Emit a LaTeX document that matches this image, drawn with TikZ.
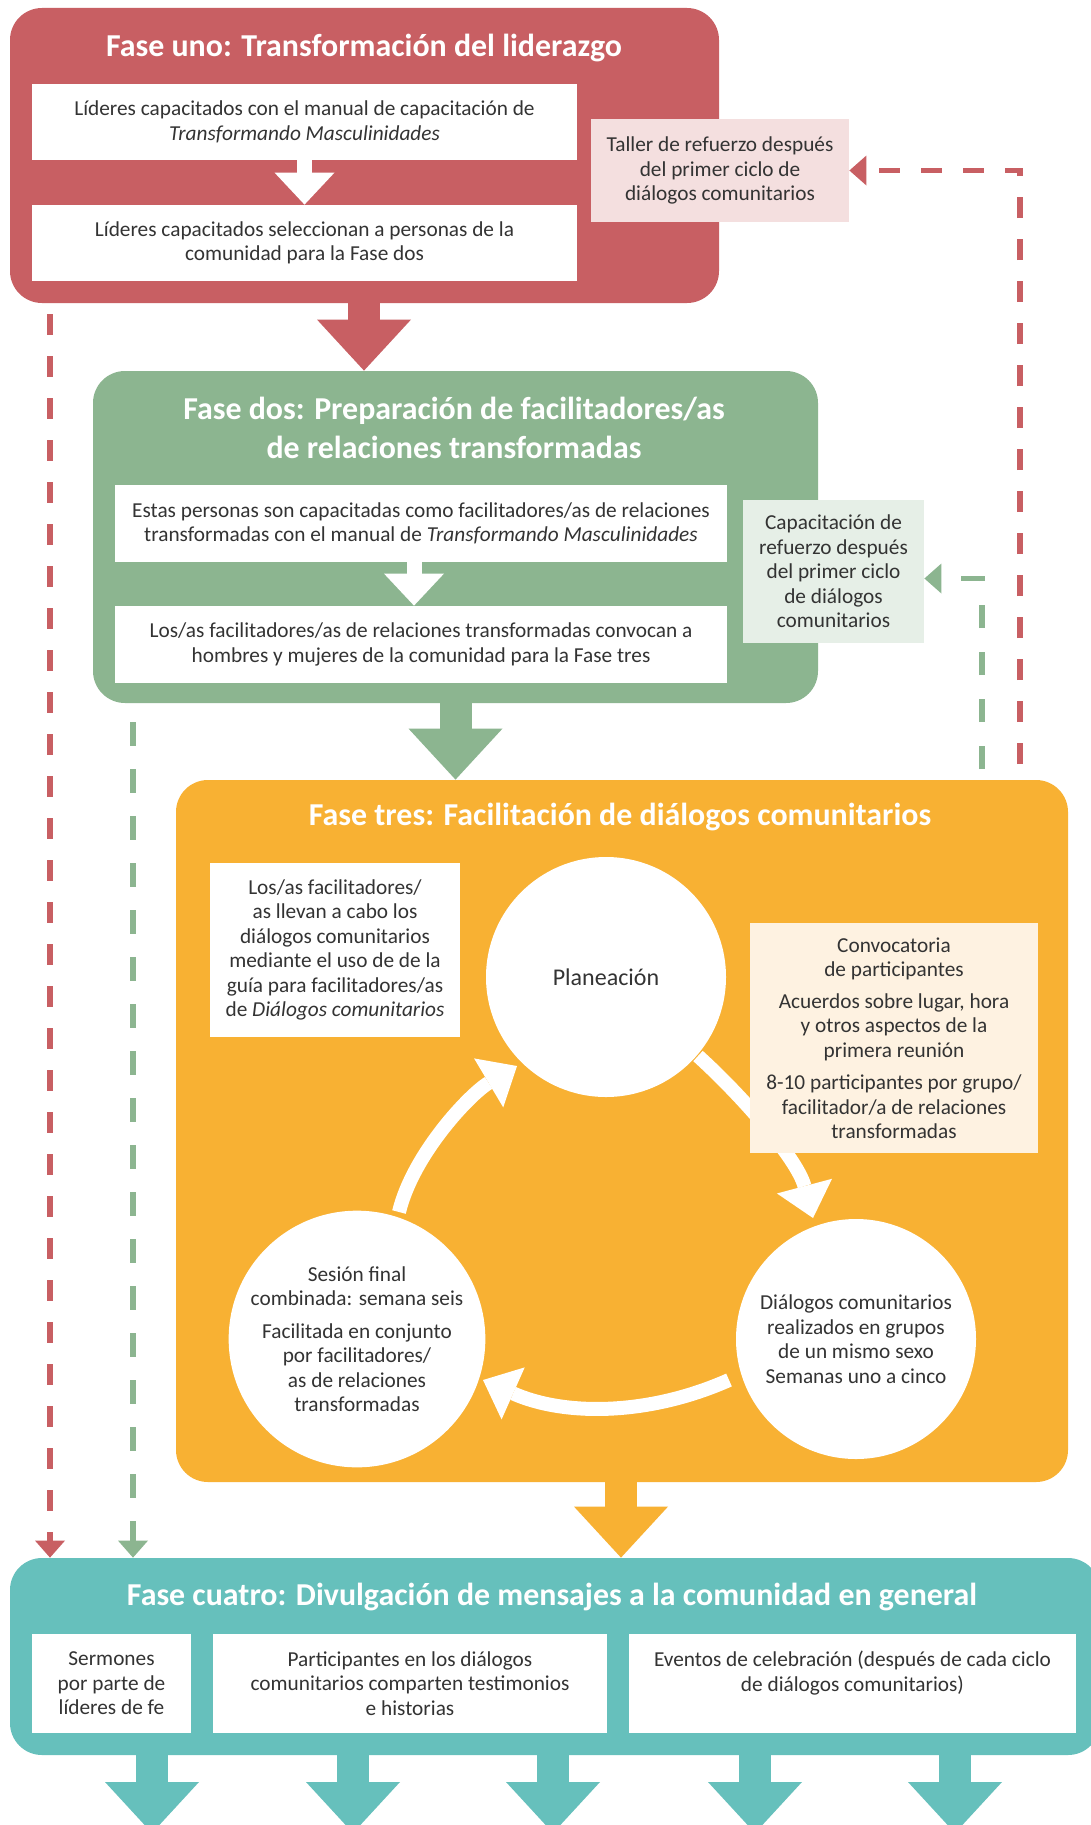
\documentclass[tikz,border=0pt]{standalone}
\usepackage{fontspec}
\setmainfont{Carlito}
\usetikzlibrary{arrows.meta,calc}
\definecolor{cred}{HTML}{C85F63}
\definecolor{cgreen}{HTML}{8CB590}
\definecolor{corange}{HTML}{F8B133}
\definecolor{cteal}{HTML}{66C0BC}
\definecolor{cpink}{HTML}{F4DFDF}
\definecolor{clgreen}{HTML}{E6EFE7}
\definecolor{ccream}{HTML}{FEF2E1}
\definecolor{ctext}{HTML}{333333}
\newcommand\fbody{\fontsize{10.65}{12.25}\selectfont}
\newcommand\ftitle{\fontsize{15.95}{19.5}\selectfont\bfseries}
\begin{document}
\begin{tikzpicture}[x=0.5pt,y=-0.5pt,
  phasebox/.style={rounded corners=16pt, inner sep=0pt},
  titletext/.style={text=white, font=\ftitle, align=center, inner sep=0pt},
  wbox/.style={fill=white, inner sep=0pt, text=ctext, font=\fbody, align=center},
  sidebox/.style={inner sep=0pt, text=ctext, font=\fbody, align=center},
  circ/.style={circle, fill=white, minimum size=120pt, inner sep=0pt, text=ctext, font=\fbody, align=center},
  bigarrow/.style={line width=16pt, -{Triangle[width=47pt,length=25.5pt,line width=0pt]}},
  smallarrow/.style={white, line width=7.5pt, -{Triangle[width=30pt,length=16pt,line width=0pt]}},
  cyclearrow/.style={white, line width=7pt, -{Triangle[width=28.5pt,length=16.5pt,line width=0pt]}},
  dashline/.style={line width=2.65pt, -{Triangle[width=15pt,length=8.5pt,line width=0pt]}},
]
\useasboundingbox (0,0) rectangle (1091,1825);
\clip (0,0) rectangle (1091,1825);
\fill[white] (0,0) rectangle (1091,1825);

% ---------------- Phase 1
\node[phasebox, fill=cred, minimum width=354.5pt, minimum height=147.5pt] (p1) at (364.5,155.5) {};
\node[titletext] (t1) at (364,48) {Fase uno: Transformación del liderazgo};
\node[wbox, minimum width=272.5pt, minimum height=38pt] (b1) at (304.5,122)
  {Líderes capacitados con el manual de capacitación de\\ \textit{Transformando Masculinidades}};
\node[wbox, minimum width=272.5pt, minimum height=38pt] (b2) at (304.5,243)
  {Líderes capacitados seleccionan a personas de la\\ comunidad para la Fase dos};
\draw[smallarrow] (b1.south) -- (b2.north);
\node[sidebox, fill=cpink, minimum width=129pt, minimum height=51.5pt] (pk) at (720,170.5)
  {Taller de refuerzo después\\ del primer ciclo de\\ diálogos comunitarios};

% ---------------- Phase 2
\node[phasebox, fill=cgreen, minimum width=362.5pt, minimum height=166pt] (p2) at (455.5,537) {};
\node[titletext] (t2) at (454,427.5) {Fase dos: Preparación de facilitadores/as\\ de relaciones transformadas};
\node[wbox, minimum width=306pt, minimum height=38.5pt] (b3) at (421,523.5)
  {Estas personas son capacitadas como facilitadores/as de relaciones\\ transformadas con el manual de \textit{Transformando Masculinidades}};
\node[wbox, minimum width=306pt, minimum height=38.5pt] (b4) at (421,644.5)
  {Los/as facilitadores/as de relaciones transformadas convocan a\\ hombres y mujeres de la comunidad para la Fase tres};
\draw[smallarrow] (b3.south -| 414,0) -- (b4.north -| 414,0);
\node[sidebox, fill=clgreen, minimum width=90.5pt, minimum height=71.5pt] (lg) at (833.5,571.5)
  {Capacitación de\\ refuerzo después\\ del primer ciclo\\ de diálogos\\ comunitarios};

% ---------------- Phase 3
\node[phasebox, fill=corange, minimum width=446pt, minimum height=351pt] (p3) at (622,1131) {};
\node[titletext] (t3) at (620,817) {Fase tres: Facilitación de diálogos comunitarios};
\node[wbox, minimum width=125pt, minimum height=87pt] (wl) at (335,950)
  {Los/as facilitadores/\\ as llevan a cabo los\\ diálogos comunitarios\\ mediante el uso de de la\\ guía para facilitadores/as\\ de \textit{Diálogos comunitarios}};
\node[circ, font=\fontsize{12}{14}\selectfont] (plan) at (606,977) {Planeación};
\node[circ] (ses) at (357,1339) {Sesión final\\ combinada: semana seis\\[4pt] Facilitada en conjunto\\ por facilitadores/\\ as de relaciones\\ transformadas};
\node[circ] (dial) at (856,1339) {Diálogos comunitarios\\ realizados en grupos\\ de un mismo sexo\\ Semanas uno a cinco};
\draw[cyclearrow] ($(plan.center)+(92,79)$) .. controls (740,1094) and (797,1158) .. ($(dial.center)+(-43,-121)$);
\draw[cyclearrow] ($(dial.center)+(-127,41)$) .. controls (648,1416) and (564,1416) .. ($(ses.center)+(126,41)$);
\draw[cyclearrow] ($(ses.center)+(42,-127)$) .. controls (413,1154) and (470,1094) .. ($(plan.center)+(-89,89)$);
\node[sidebox, fill=ccream, minimum width=144pt, minimum height=115pt] (cv) at (894,1038)
  {Convocatoria\\ de participantes\\[3.5pt] Acuerdos sobre lugar, hora\\ y otros aspectos de la\\ primera reunión\\[4pt] 8-10 participantes por grupo/\\ facilitador/a de relaciones\\ transformadas};

% ---------------- Phase 4
\node[phasebox, fill=cteal, minimum width=545pt, minimum height=98.5pt] (p4) at (555,1656.5) {};
\node[titletext] (t4) at (552,1597) {Fase cuatro: Divulgación de mensajes a la comunidad en general};
\node[wbox, minimum width=79.5pt, minimum height=49.5pt] (s1) at (111.5,1683.5)
  {Sermones\\ por parte de\\ líderes de fe};
\node[wbox, minimum width=197pt, minimum height=49.5pt] (s2) at (410,1683.5)
  {Participantes en los diálogos\\ comunitarios comparten testimonios\\ e historias};
\node[wbox, minimum width=223.5pt, minimum height=49.5pt] (s3) at (852.5,1683.5)
  {Eventos de celebración (después de cada ciclo\\ de diálogos comunitarios)\\ \mbox{}};

% ---------------- Block arrows between phases
\coordinate (ax1) at (364,0);
\draw[bigarrow, cred] (p1.south -| ax1) -- (p2.north -| ax1);
\draw[bigarrow, cgreen] (p2.south) -- (p3.north -| p2.south);
\coordinate (ax3) at (621,0);
\draw[bigarrow, corange] (p3.south -| ax3) -- (p4.north -| ax3);
\foreach \n/\xx in {1/152,2/353,3/553,4/755,5/955}{
  \coordinate (e\n) at (\xx,1833);
  \draw[bigarrow, cteal] (p4.south -| e\n) -- (e\n);
}

% ---------------- Dashed feedback / bypass lines
\coordinate (r0) at (1020,764);
\draw[dashline, cred, dash pattern=on 10.5pt off 10.5pt] (r0) |- (pk.east);
\coordinate (g0) at (982,769);
\draw[dashline, cgreen, dash pattern=on 11.75pt off 11.75pt] (g0) |- ($(lg.east)+(0,7)$);
\coordinate (rl) at (50,314);
\draw[dashline, cred, dash pattern=on 10.5pt off 10.5pt] (rl) -- (p4.north -| rl);
\coordinate (gl) at (133,722);
\draw[dashline, cgreen, dash pattern=on 11.75pt off 11.75pt] (gl) -- (p4.north -| gl);
\end{tikzpicture}
\end{document}
